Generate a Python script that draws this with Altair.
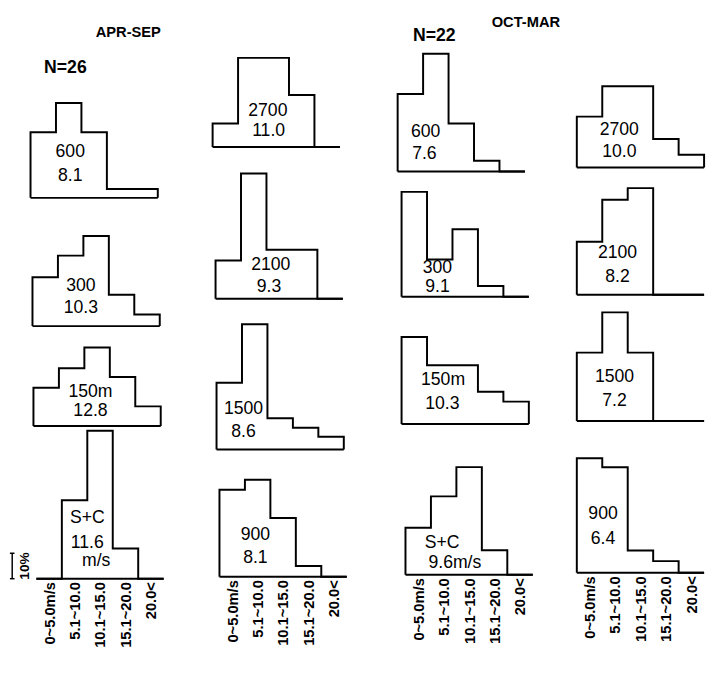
import altair as alt
import pandas as pd

# ---------------- data ----------------
SPEED_CLASSES = ["0~5.0m/s", "5.1~10.0", "10.1~15.0", "15.1~20.0", "20.0<"]
SEASONS = ["APR-SEP", "OCT-MAR"]
SAMPLE_SIZES = ["N=26", "N=22"]
SCALE_LABEL = "10%"

# frequency (%) of each wind-speed class, APR-SEP
AS_600 = [25.8, 37.3, 25.8, 3.5, 3.5]
AS_300 = [19.2, 27.7, 35.4, 12.3, 4.6]
AS_150 = [15.0, 22.7, 30.8, 19.2, 7.7]
AS_SC = [0.0, 30.8, 58.1, 11.9, 0.0]
AS_2700 = [9.2, 35.0, 35.0, 20.4, 0.0]
AS_2100 = [15.0, 49.2, 19.2, 19.2, 0.0]
AS_1500 = [26.2, 49.2, 12.3, 8.5, 5.0]
AS_900 = [34.2, 38.1, 23.1, 4.2, 0.0]
# frequency (%) of each wind-speed class, OCT-MAR
OM_600 = [30.4, 46.2, 18.8, 4.2, 0.0]
OM_300 = [41.2, 14.6, 26.5, 4.2, 0.0]
OM_150 = [34.2, 23.1, 23.1, 12.7, 8.8]
OM_SC = [18.5, 30.8, 42.3, 9.6, 0.0]
OM_2700 = [20.0, 31.9, 31.9, 11.2, 5.0]
OM_2100 = [20.8, 37.3, 41.9, 0.0, 0.0]
OM_1500 = [26.9, 42.7, 26.9, 0.0, 0.0]
OM_900 = [45.0, 41.5, 8.8, 4.6, 0.0]

# panel annotations (level, mean speed)
COLUMNS = [
    [(AS_600, ["600", "8.1"]), (AS_300, ["300", "10.3"]),
     (AS_150, ["150m", "12.8"]), (AS_SC, ["S+C", "11.6", "m/s"])],
    [(AS_2700, ["2700", "11.0"]), (AS_2100, ["2100", "9.3"]),
     (AS_1500, ["1500", "8.6"]), (AS_900, ["900", "8.1"])],
    [(OM_600, ["600", "7.6"]), (OM_300, ["300", "9.1"]),
     (OM_150, ["150m", "10.3"]), (OM_SC, ["S+C", "9.6m/s"])],
    [(OM_2700, ["2700", "10.0"]), (OM_2100, ["2100", "8.2"]),
     (OM_1500, ["1500", "7.2"]), (OM_900, ["900", "6.4"])],
]

# ---------------- layout ----------------
FONT = "Liberation Sans"
BIN_PX = 26
PX_PER_PCT = 2.6
# x-domain of each column (bin units); extra room on the sides is the gap to the next column
COL_DOMAINS = [[-25 / 26, 5 + 50 / 26], [0, 5 + 55 / 26], [0, 5 + 50 / 26], [0, 5]]
# small horizontal drift (px) of each panel inside its column, as in the printed figure
PANEL_SHIFT = [[-2, 0, 1, 4], [0, 3, 4, 7], [1, 5, 5, 9], [0, 0, 0, 0]]
PANEL_HEIGHTS = [[186, 131, 102, 156], [134, 155, 154, 130],
                 [159, 128, 130, 154], [155, 130, 129, 155]]
# annotation positions (bin units, % units)
LABEL_POS = [
    [[(1.56, 18.1), (1.56, 8.5)], [(1.9, 15.8), (1.9, 6.9)],
     [(2.24, 13.5), (2.24, 5.8)], [(2.0, 23.8), (2.0, 14.0), (2.35, 6.9)]],
    [[(2.17, 14.2), (2.2, 6.2)], [(2.17, 13.1), (2.1, 4.6)],
     [(1.06, 15.8), (1.06, 6.9)], [(1.41, 16.5), (1.41, 7.3)]],
    [[(1.1, 15.4), (1.05, 6.9)], [(1.41, 11.2), (1.41, 3.6)],
     [(1.63, 17.3), (1.6, 7.7)], [(1.44, 12.3), (1.94, 4.6)]],
    [[(1.67, 14.6), (1.67, 6.2)], [(1.6, 16.2), (1.6, 6.9)],
     [(1.48, 17.3), (1.48, 7.7)], [(1.03, 23.1), (1.03, 13.1)]],
]
HEADERS = {
    (0, 0): [(SEASONS[0], 3.84, 65.0, 15), (SAMPLE_SIZES[0], 1.37, 50.8, 18)],
    (2, 0): [(SAMPLE_SIZES[1], 1.44, 53.1, 18), (SEASONS[1], 5.04, 58.5, 15)],
}

label_expr = "[" + ",".join("'" + s + "'" for s in SPEED_CLASSES) + "][floor(datum.value)]"


def make_panel(ci, pi):
    values, lines = COLUMNS[ci][pi]
    height = PANEL_HEIGHTS[ci][pi]
    xmin, xmax = COL_DOMAINS[ci]
    width = round((xmax - xmin) * BIN_PX)
    d = PANEL_SHIFT[ci][pi] / BIN_PX
    bottom = pi == 3
    xs = alt.Scale(domain=[xmin - d, xmax - d], nice=False, zero=False)
    ys = alt.Scale(domain=[0, height / PX_PER_PCT], nice=False, zero=True)
    if bottom:
        xaxis = alt.Axis(values=[0.5, 1.5, 2.5, 3.5, 4.5], labelExpr=label_expr,
                         labelAngle=270, domain=False, ticks=False, grid=False,
                         labelPadding=3, labelFont=FONT, labelFontSize=15,
                         labelFontWeight="bold", labelColor="black", title=None,
                         labelOverlap=False, labelFlush=False)
    else:
        xaxis = None

    def enc_xy(ch):
        return ch.encode(x=alt.X("x:Q", scale=xs, axis=xaxis),
                         y=alt.Y("y:Q", scale=ys, axis=None))

    pts = [{"x": 0, "y": 0.0, "o": 0}]
    pts += [{"x": i, "y": v, "o": i + 1} for i, v in enumerate(values)]
    pts += [{"x": 5, "y": 0.0, "o": 6}]
    line = enc_xy(alt.Chart(pd.DataFrame(pts)).mark_line(
        interpolate="step-after", color="black", strokeWidth=2)).encode(order="o:Q")
    base = enc_xy(alt.Chart(pd.DataFrame({"x": [0], "x2": [5], "y": [0]})).mark_rule(
        color="black", strokeWidth=2)).encode(x2="x2:Q")
    pos = LABEL_POS[ci][pi]
    tdf = pd.DataFrame({"x": [p[0] for p in pos], "y": [p[1] for p in pos], "t": lines})
    text = enc_xy(alt.Chart(tdf).mark_text(font=FONT, fontSize=18, color="black")).encode(text="t:N")
    layers = [line, base, text]

    for (t, hx, hy, fs) in HEADERS.get((ci, pi), []):
        h = enc_xy(alt.Chart(pd.DataFrame({"x": [hx], "y": [hy], "t": [t]})).mark_text(
            font=FONT, fontSize=fs, fontWeight="bold", color="black")).encode(text="t:N")
        layers.append(h)

    if ci == 0 and bottom:
        bar = enc_xy(alt.Chart(pd.DataFrame({"x": [-0.95], "y": [0], "y2": [10]})).mark_rule(
            color="black", strokeWidth=1.5)).encode(y2="y2:Q")
        serif = enc_xy(alt.Chart(pd.DataFrame({"x": [-1.04, -1.04], "x2": [-0.86, -0.86],
                                               "y": [0, 10]})).mark_rule(
            color="black", strokeWidth=1.5)).encode(x2="x2:Q")
        lab = enc_xy(alt.Chart(pd.DataFrame({"x": [-0.45], "y": [5], "t": [SCALE_LABEL]})).mark_text(
            font=FONT, fontSize=14, fontWeight="bold", angle=270, color="black")).encode(text="t:N")
        layers += [bar, serif, lab]

    return alt.layer(*layers).properties(width=width, height=height)


cols = [alt.vconcat(*[make_panel(ci, pi) for pi in range(4)], spacing=0, bounds="flush")
        for ci in range(4)]
chart = alt.hconcat(*cols, spacing=0).properties(
    padding=0, background="white"
).configure_view(stroke=None)

chart.save("out.html", embed_options={"renderer": "svg", "actions": False})
